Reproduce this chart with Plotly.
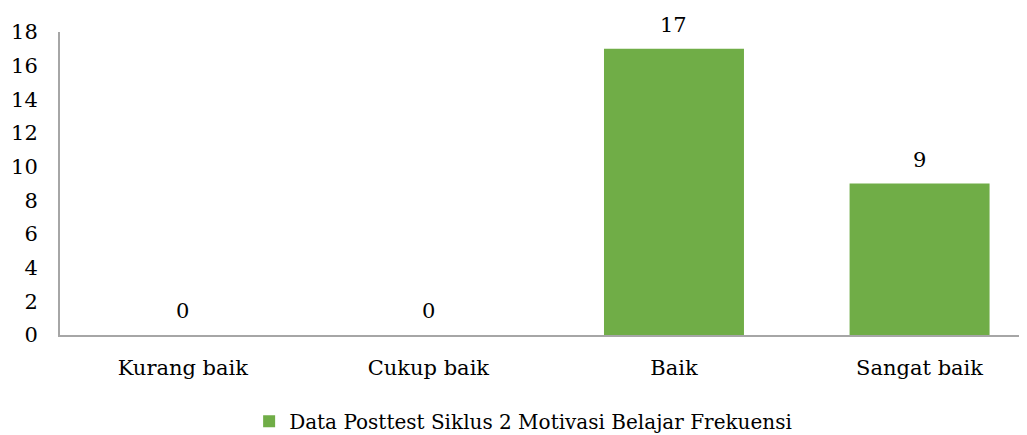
import plotly.graph_objects as go

categories = ["Kurang baik", "Cukup baik", "Baik", "Sangat baik"]
values = [0, 0, 17, 9]
series_name = "Data Posttest Siklus 2 Motivasi Belajar Frekuensi"
y_ticks = [0, 2, 4, 6, 8, 10, 12, 14, 16, 18]

FONT = "DejaVu Serif"
GREEN = "#70AD47"
AXIS = "#A6A6A6"

fig = go.Figure()
fig.add_trace(go.Bar(
    x=categories, y=values, name=series_name,
    marker=dict(color=GREEN, line=dict(width=0)),
    width=0.57,
    cliponaxis=False, showlegend=True,
))

for c, v in zip(categories, values):
    fig.add_annotation(
        x=c, y=v, text=str(v), showarrow=False,
        yanchor="middle", yshift=24,
        font=dict(family=FONT, size=21, color="#000000"),
    )

fig.update_layout(
    width=1027, height=435,
    margin=dict(l=52, r=0, t=24, b=108),
    paper_bgcolor="white", plot_bgcolor="white",
    font=dict(family=FONT, size=21, color="#000000"),
    showlegend=True,
    legend=dict(orientation="h", x=0.475, xanchor="center", y=-0.285, yanchor="middle",
                font=dict(family=FONT, size=20, color="#000000"),
                itemwidth=30, traceorder="normal"),
)
fig.update_xaxes(
    range=[-0.5, 3.47], showline=True, linecolor=AXIS, linewidth=2,
    showgrid=False, ticks="outside", ticklen=13, tickcolor="rgba(0,0,0,0)",
    tickfont=dict(family=FONT, size=21, color="#000000"), zeroline=False,
    automargin=False,
)
fig.update_yaxes(
    range=[0, 18], tickvals=y_ticks, showline=True, linecolor=AXIS, linewidth=2,
    showgrid=False, ticks="outside", ticklen=16, tickcolor="rgba(0,0,0,0)",
    tickfont=dict(family=FONT, size=21, color="#000000"), zeroline=False,
    automargin=False,
)

fig.write_html("out.html")
